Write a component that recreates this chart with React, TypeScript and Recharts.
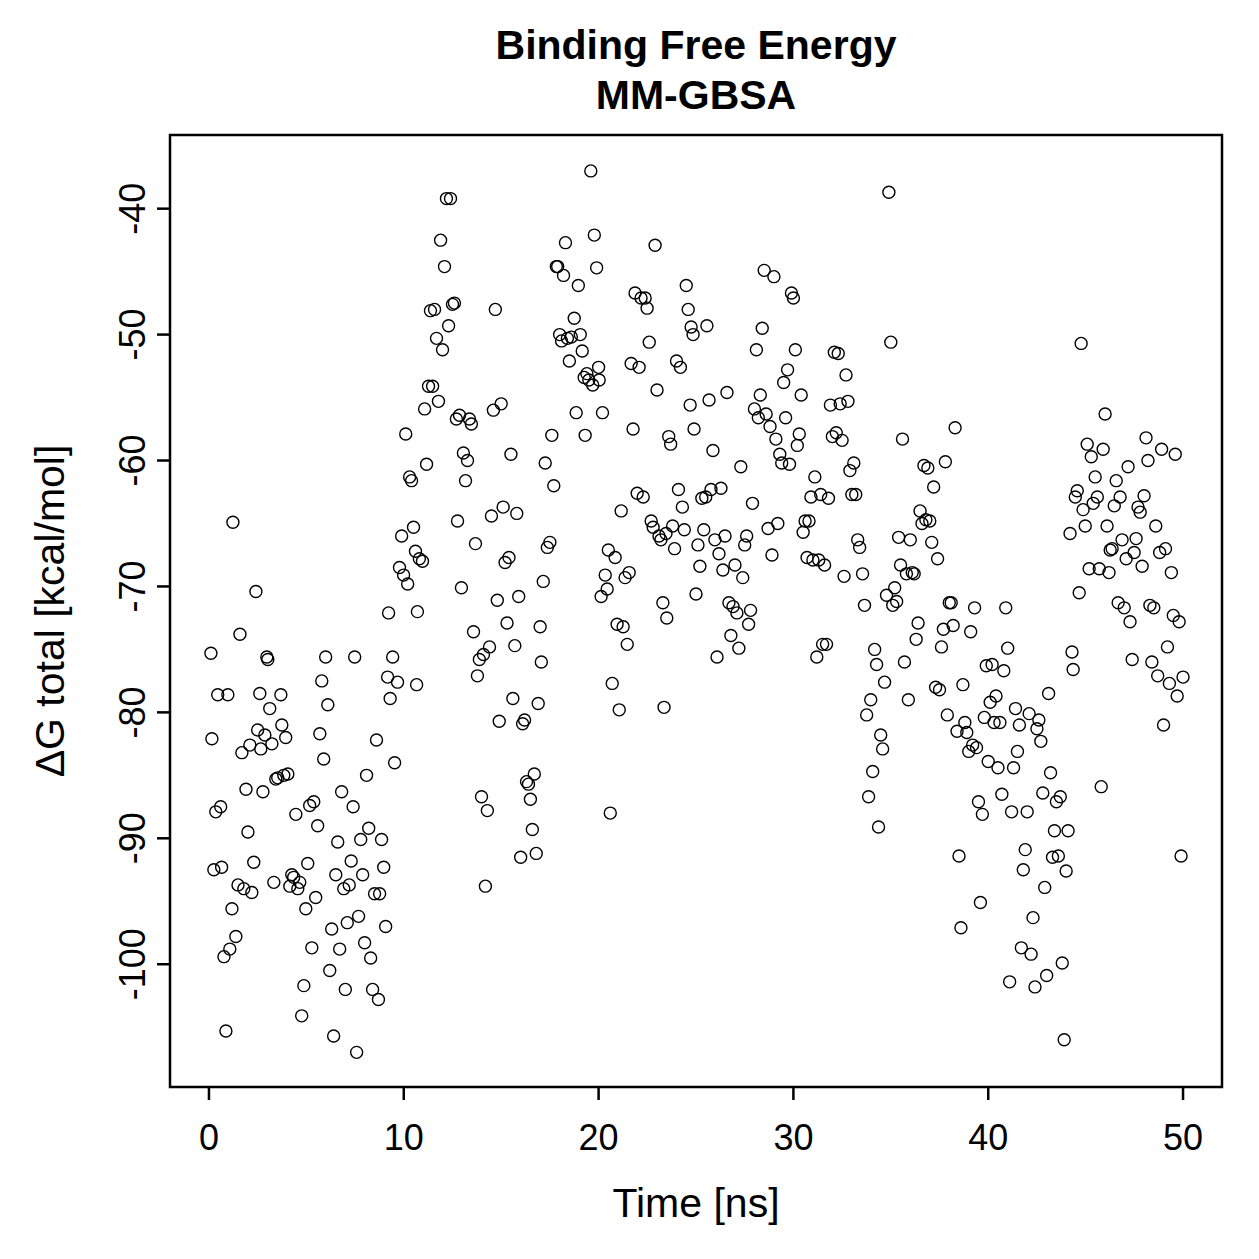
import React from "react";
import {
  ScatterChart, Scatter, XAxis, YAxis, ReferenceArea,
} from "recharts";

// MM-GBSA binding free energy per frame, [time (ns), ΔG (kcal/mol)]
const run0to10: [number, number][] = [
  [0.1, -75.3], [0.15, -82.1], [0.25, -92.5], [0.35, -87.9], [0.45, -78.6], [0.6, -87.5], [0.65, -92.3],
  [0.77, -99.4], [0.87, -105.3], [0.97, -78.6], [1.07, -98.8], [1.18, -95.6], [1.23, -64.9], [1.38, -97.8],
  [1.49, -93.7], [1.59, -73.8], [1.69, -83.2], [1.79, -94.0], [1.9, -86.1], [2.0, -89.5], [2.1, -82.6],
  [2.2, -94.3], [2.3, -91.9], [2.41, -70.4], [2.5, -81.4], [2.61, -78.5], [2.66, -82.9], [2.77, -86.3],
  [2.87, -81.8], [2.97, -75.6], [3.02, -75.8], [3.12, -79.7], [3.23, -82.5], [3.33, -93.5], [3.43, -85.3],
  [3.53, -85.2], [3.69, -78.6], [3.74, -81.0], [3.84, -85.0], [3.94, -82.0], [4.05, -84.9], [4.15, -93.8],
  [4.25, -92.9], [4.35, -93.1], [4.46, -88.1], [4.56, -94.0], [4.66, -93.5], [4.76, -104.1], [4.87, -101.7],
  [4.97, -95.6], [5.07, -92.0], [5.17, -87.4], [5.28, -98.7], [5.38, -87.1], [5.48, -94.7], [5.58, -89.0],
  [5.69, -81.7], [5.79, -77.5], [5.89, -83.7], [5.99, -75.6], [6.1, -79.4], [6.2, -100.5], [6.3, -97.2],
  [6.4, -105.7], [6.51, -92.9], [6.61, -90.3], [6.71, -98.8], [6.81, -86.3], [6.92, -94.0], [7.0, -102.0],
  [7.1, -96.7], [7.2, -93.7], [7.3, -91.8], [7.4, -87.5], [7.48, -75.6], [7.58, -107.0], [7.68, -96.2],
  [7.79, -90.1], [7.89, -92.9], [7.99, -98.3], [8.09, -85.0], [8.2, -89.2], [8.3, -99.5], [8.4, -102.0],
  [8.5, -94.4], [8.6, -82.2], [8.7, -102.8], [8.76, -94.4], [8.86, -90.1], [8.97, -92.3], [9.07, -97.0],
  [9.17, -77.2], [9.22, -72.1], [9.3, -78.9], [9.43, -75.6], [9.53, -84.0], [9.68, -77.6], [9.78, -68.5],
  [9.89, -66.0], [9.99, -69.1],
];

const run10to20: [number, number][] = [
  [10.1, -57.9], [10.2, -69.8], [10.3, -61.3], [10.4, -61.6], [10.5, -65.3], [10.6, -67.2], [10.66, -77.8],
  [10.7, -72.0], [10.8, -67.8], [10.96, -68.0], [11.07, -55.9], [11.17, -60.3], [11.27, -54.1], [11.37, -48.1],
  [11.48, -54.1], [11.58, -48.0], [11.68, -50.3], [11.78, -55.3], [11.89, -42.5], [11.99, -51.2], [12.09, -44.6],
  [12.19, -39.2], [12.3, -49.3], [12.4, -39.2], [12.5, -47.6], [12.6, -47.5], [12.7, -56.7], [12.76, -64.8],
  [12.86, -56.4], [12.96, -70.1], [13.06, -59.4], [13.17, -61.6], [13.27, -60.0], [13.37, -56.7], [13.47, -57.1],
  [13.58, -73.6], [13.68, -66.6], [13.78, -77.1], [13.88, -75.8], [13.99, -86.7], [14.09, -75.4], [14.19, -93.8],
  [14.29, -87.8], [14.4, -74.8], [14.5, -64.4], [14.6, -56.0], [14.7, -48.0], [14.8, -71.1], [14.9, -80.7],
  [15.0, -55.5], [15.1, -63.7], [15.2, -68.1], [15.3, -72.9], [15.4, -67.7], [15.5, -59.5], [15.6, -78.9],
  [15.7, -74.7], [15.8, -64.2], [15.9, -70.8], [16.0, -91.5], [16.1, -80.9], [16.2, -80.6], [16.3, -85.5],
  [16.4, -85.7], [16.5, -86.9], [16.6, -89.3], [16.7, -84.9], [16.8, -91.2], [16.9, -79.3], [17.0, -73.2],
  [17.06, -76.0], [17.16, -69.6], [17.26, -60.2], [17.37, -66.9], [17.5, -66.5], [17.6, -58.0], [17.7, -62.0],
  [17.83, -44.6], [17.9, -44.6], [18.0, -50.0], [18.1, -50.5], [18.2, -45.3], [18.3, -42.7], [18.4, -50.3],
  [18.5, -52.1], [18.6, -50.2], [18.75, -48.7], [18.85, -56.2], [18.96, -46.1], [19.06, -50.0], [19.16, -51.3],
  [19.26, -53.4], [19.31, -58.0], [19.4, -53.1], [19.5, -53.6], [19.6, -37.0], [19.7, -54.0], [19.78, -42.1],
  [19.9, -44.7], [20.0, -52.6],
];

const run20to30: [number, number][] = [
  [20.03, -53.6], [20.13, -70.8], [20.2, -56.2], [20.34, -69.1], [20.44, -70.2], [20.5, -67.1], [20.6, -88.0],
  [20.7, -77.7], [20.85, -67.7], [20.95, -73.0], [21.06, -79.8], [21.16, -64.0], [21.26, -73.2], [21.36, -69.3],
  [21.47, -74.6], [21.57, -68.9], [21.67, -52.3], [21.77, -57.5], [21.87, -46.7], [21.98, -62.6], [22.08, -52.6],
  [22.18, -47.1], [22.29, -62.9], [22.39, -47.1], [22.49, -47.9], [22.6, -50.6], [22.7, -64.8], [22.8, -65.3],
  [22.9, -42.9], [23.0, -54.4], [23.1, -66.0], [23.2, -66.3], [23.3, -71.3], [23.36, -79.6], [23.46, -65.8],
  [23.5, -72.5], [23.6, -58.1], [23.7, -58.7], [23.8, -65.2], [23.9, -67.0], [24.0, -52.1], [24.1, -62.3],
  [24.2, -52.6], [24.3, -63.7], [24.4, -65.5], [24.5, -46.1], [24.6, -48.0], [24.7, -55.6], [24.75, -49.4],
  [24.85, -50.0], [24.9, -57.5], [25.0, -70.6], [25.1, -66.7], [25.2, -68.4], [25.3, -63.0], [25.4, -65.5],
  [25.5, -62.9], [25.56, -49.3], [25.67, -55.2], [25.77, -62.3], [25.87, -59.2], [25.97, -66.3], [26.08, -75.6],
  [26.18, -67.4], [26.28, -62.2], [26.38, -68.7], [26.49, -66.0], [26.59, -54.6], [26.69, -71.3], [26.79, -73.9],
  [26.9, -71.6], [27.0, -68.3], [27.1, -72.1], [27.2, -74.9], [27.3, -60.5], [27.4, -69.3], [27.5, -66.7],
  [27.6, -66.0], [27.7, -73.0], [27.8, -71.9], [27.9, -63.4], [28.0, -55.9], [28.1, -51.2], [28.2, -56.6],
  [28.3, -54.8], [28.4, -49.5], [28.5, -44.9], [28.6, -56.3], [28.7, -65.4], [28.8, -57.3], [28.9, -67.5],
  [29.0, -45.4], [29.1, -58.3], [29.2, -65.0], [29.3, -59.5], [29.4, -60.2], [29.5, -53.8], [29.6, -56.6],
  [29.7, -52.8], [29.8, -60.3], [29.9, -46.7], [30.0, -47.1],
];

const run30to40: [number, number][] = [
  [30.1, -51.2], [30.2, -58.8], [30.3, -57.9], [30.4, -54.8], [30.5, -65.7], [30.6, -64.8], [30.7, -67.7],
  [30.8, -64.8], [30.9, -62.9], [31.0, -67.9], [31.1, -61.3], [31.2, -75.6], [31.3, -67.9], [31.4, -62.7],
  [31.5, -74.6], [31.6, -68.3], [31.7, -74.6], [31.8, -63.0], [31.9, -55.6], [32.0, -58.1], [32.1, -51.4],
  [32.2, -57.8], [32.3, -51.5], [32.4, -55.5], [32.5, -58.4], [32.6, -69.2], [32.7, -53.2], [32.8, -55.3],
  [32.9, -60.8], [33.0, -62.7], [33.1, -60.2], [33.2, -62.7], [33.3, -66.3], [33.4, -66.9], [33.55, -69.0],
  [33.65, -71.5], [33.76, -80.2], [33.86, -86.7], [33.97, -79.0], [34.07, -84.7], [34.17, -75.0], [34.27, -76.2],
  [34.37, -89.1], [34.48, -81.8], [34.58, -82.9], [34.68, -77.6], [34.78, -70.7], [34.9, -38.7], [35.0, -50.6],
  [35.1, -71.5], [35.2, -70.1], [35.3, -71.2], [35.4, -66.1], [35.5, -68.3], [35.6, -58.3], [35.7, -76.0],
  [35.8, -69.0], [35.9, -79.0], [36.0, -66.3], [36.1, -68.9], [36.2, -69.0], [36.3, -74.2], [36.4, -72.9],
  [36.5, -64.0], [36.6, -65.0], [36.7, -60.4], [36.8, -64.7], [36.9, -60.6], [37.0, -64.8], [37.1, -66.5],
  [37.2, -62.1], [37.3, -78.0], [37.4, -67.8], [37.5, -78.2], [37.6, -74.8], [37.7, -73.4], [37.8, -60.1],
  [37.9, -80.2], [38.0, -71.3], [38.1, -71.3], [38.2, -73.1], [38.3, -57.4], [38.4, -81.5], [38.5, -91.4],
  [38.6, -97.1], [38.7, -77.8], [38.8, -80.8], [38.9, -81.6], [39.0, -83.1], [39.1, -73.6], [39.2, -82.6],
  [39.3, -71.7], [39.4, -82.8], [39.5, -87.1], [39.6, -95.1], [39.7, -88.1], [39.8, -80.4], [39.9, -76.3],
];

const run40to50: [number, number][] = [
  [40.0, -83.9], [40.1, -79.2], [40.2, -76.2], [40.3, -80.8], [40.4, -78.7], [40.5, -84.4], [40.6, -80.8],
  [40.7, -86.5], [40.8, -76.7], [40.9, -71.7], [41.0, -74.9], [41.1, -101.4], [41.2, -87.9], [41.3, -84.4],
  [41.4, -79.7], [41.5, -83.1], [41.6, -81.0], [41.7, -98.7], [41.8, -92.5], [41.9, -90.9], [42.0, -87.9],
  [42.1, -80.1], [42.2, -99.2], [42.3, -96.3], [42.4, -101.8], [42.5, -81.3], [42.6, -80.6], [42.7, -82.3],
  [42.8, -86.4], [42.9, -93.9], [43.0, -100.9], [43.1, -78.5], [43.2, -84.8], [43.3, -91.5], [43.4, -89.4],
  [43.5, -87.1], [43.6, -91.4], [43.7, -86.7], [43.8, -99.9], [43.9, -106.0], [44.0, -92.6], [44.1, -89.4],
  [44.2, -65.8], [44.3, -75.2], [44.36, -76.6], [44.47, -62.9], [44.57, -62.4], [44.67, -70.5], [44.77, -50.7],
  [44.87, -63.9], [44.98, -65.2], [45.08, -58.7], [45.18, -68.6], [45.29, -59.7], [45.39, -63.4], [45.49, -61.3],
  [45.6, -62.9], [45.7, -68.6], [45.8, -85.9], [45.9, -59.1], [46.0, -56.3], [46.1, -65.2], [46.2, -68.9],
  [46.26, -67.1], [46.36, -67.0], [46.47, -63.6], [46.57, -61.6], [46.67, -71.3], [46.77, -62.9], [46.87, -66.3],
  [46.98, -71.7], [47.08, -67.8], [47.18, -60.5], [47.28, -72.8], [47.39, -75.8], [47.49, -67.3], [47.59, -66.2],
  [47.69, -63.7], [47.8, -64.1], [47.9, -68.4], [48.0, -62.8], [48.1, -58.2], [48.2, -60.0], [48.3, -71.5],
  [48.4, -76.0], [48.5, -71.7], [48.6, -65.2], [48.7, -77.1], [48.8, -67.3], [48.9, -59.1], [49.0, -81.0],
  [49.1, -67.0], [49.2, -74.8], [49.3, -77.7], [49.4, -68.9], [49.5, -72.3], [49.6, -59.5], [49.7, -78.7],
  [49.8, -72.8], [49.9, -91.4], [50.0, -77.2],
];

const xTicks = [0, 10, 20, 30, 40, 50];
const yTicks = [-100, -90, -80, -70, -60, -50, -40];

// R-style 4% padding around the data range
const xDomain: [number, number] = [-2, 52];
const yDomain: [number, number] = [-109.75, -34.15];

const FONT = '"Liberation Sans", Arial, Helvetica, sans-serif';

const points = [...run0to10, ...run10to20, ...run20to30, ...run30to40, ...run40to50]
  .map(([t, dG]) => ({ t, dG }));

const XTick = ({ x, y, payload }: any) => (
  <text x={x} y={y} dy={50} textAnchor="middle" fontSize={36} fontFamily={FONT} fill="#000">
    {payload.value}
  </text>
);

const YTick = ({ x, y, payload }: any) => (
  <text
    x={x}
    y={y}
    transform={`rotate(-90, ${x}, ${y})`}
    textAnchor="middle"
    fontSize={36}
    fontFamily={FONT}
    fill="#000"
  >
    {payload.value}
  </text>
);

const OpenCircle = ({ cx, cy }: any) => (
  <circle cx={cx} cy={cy} r={6} fill="none" stroke="#000" strokeWidth={1.4} />
);

const titleStyle: React.CSSProperties = {
  position: "absolute", left: 696, transform: "translate(-50%, -50%)",
  fontFamily: FONT, fontWeight: 700, fontSize: 41, lineHeight: 1, whiteSpace: "nowrap",
};

export default function App() {
  return (
    <div style={{ position: "absolute", left: 0, top: 0, width: 1259, height: 1259, background: "#fff" }}>
      <ScatterChart width={1259} height={1259} margin={{ top: 135, right: 37, bottom: 0, left: 0 }}>
        <XAxis
          type="number"
          dataKey="t"
          domain={xDomain}
          ticks={xTicks}
          allowDataOverflow
          axisLine={false}
          tickLine={{ stroke: "#000", strokeWidth: 2.5 }}
          tickSize={13}
          tickMargin={0}
          height={172}
          tick={<XTick />}
          interval={0}
        />
        <YAxis
          type="number"
          dataKey="dG"
          domain={yDomain}
          ticks={yTicks}
          allowDataOverflow
          axisLine={false}
          tickLine={{ stroke: "#000", strokeWidth: 2.5 }}
          tickSize={13}
          tickMargin={12}
          width={170}
          tick={<YTick />}
          interval={0}
        />
        <Scatter data={points} shape={<OpenCircle />} isAnimationActive={false} />
        <ReferenceArea
          x1={xDomain[0]}
          x2={xDomain[1]}
          y1={yDomain[0]}
          y2={yDomain[1]}
          fill="none"
          stroke="#000"
          strokeWidth={2.5}
          ifOverflow="visible"
        />
      </ScatterChart>

      <div style={{ ...titleStyle, top: 45 }}>Binding Free Energy</div>
      <div style={{ ...titleStyle, top: 95 }}>MM-GBSA</div>
      <div style={{
        position: "absolute", left: 696, top: 1203, transform: "translate(-50%, -50%)",
        fontFamily: FONT, fontSize: 41, lineHeight: 1, whiteSpace: "nowrap",
      }}>
        Time [ns]
      </div>
      <div style={{
        position: "absolute", left: 50, top: 611, transform: "translate(-50%, -50%) rotate(-90deg)",
        fontFamily: FONT, fontSize: 41, lineHeight: 1, whiteSpace: "nowrap",
      }}>
        ΔG total [kcal/mol]
      </div>
    </div>
  );
}
